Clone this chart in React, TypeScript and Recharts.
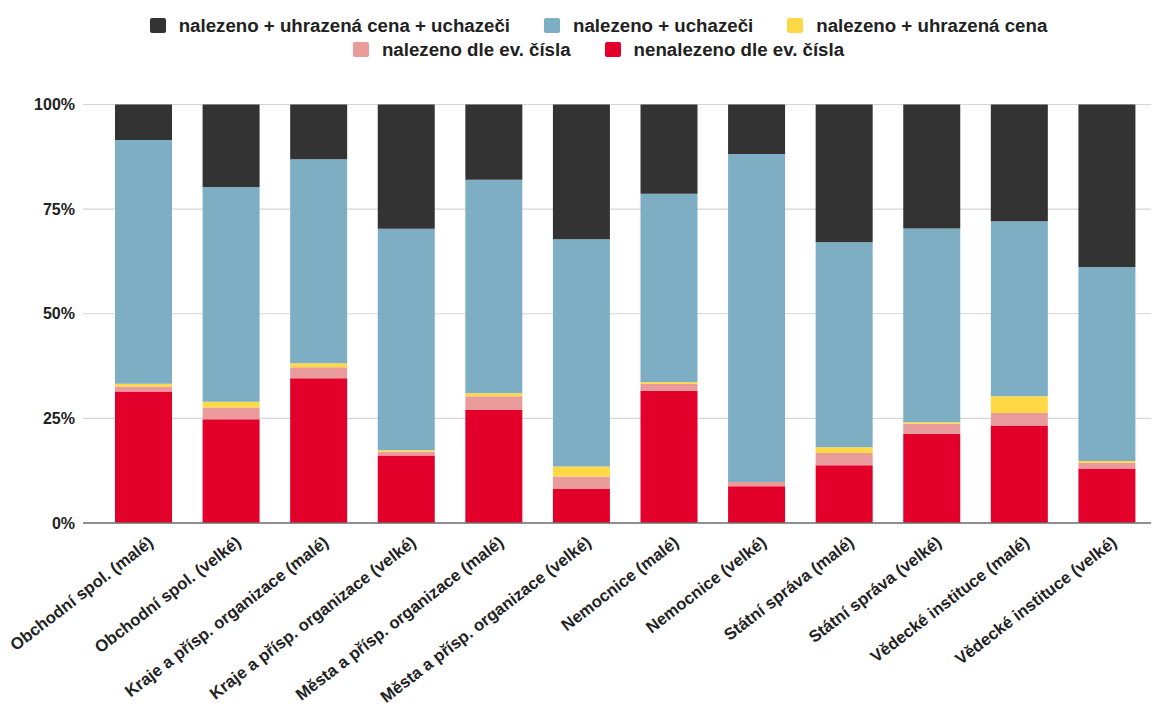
import React from 'react';
import { BarChart, Bar, XAxis, YAxis, CartesianGrid, Legend } from 'recharts';

const categories = [
  'Obchodní spol. (malé)',
  'Obchodní spol. (velké)',
  'Kraje a přísp. organizace (malé)',
  'Kraje a přísp. organizace (velké)',
  'Města a přísp. organizace (malé)',
  'Města a přísp. organizace (velké)',
  'Nemocnice (malé)',
  'Nemocnice (velké)',
  'Státní správa (malé)',
  'Státní správa (velké)',
  'Vědecké instituce (malé)',
  'Vědecké instituce (velké)',
];

// percent shares, bottom of the stack first
const nenalezeno = [31.4, 24.8, 34.6, 16.1, 27.0, 8.1, 31.6, 8.8, 13.8, 21.3, 23.3, 13.0];
const nalezenoDle = [1.2, 2.8, 2.6, 0.9, 3.3, 3.0, 1.7, 1.0, 2.9, 2.4, 3.0, 1.4];
const nalezenoCena = [0.7, 1.4, 1.0, 0.4, 0.7, 2.4, 0.4, 0, 1.4, 0.4, 4.0, 0.4];
const nalezenoUchazeci = [58.2, 51.3, 48.7, 52.9, 51.0, 54.3, 45.0, 78.4, 49.0, 46.3, 41.8, 46.4];
const nalezenoVse = [8.5, 19.7, 13.1, 29.7, 18.0, 32.2, 21.3, 11.8, 32.9, 29.6, 27.9, 38.8];

const yTicks = [0, 25, 50, 75, 100];

const series = [
  { key: 'nenalezeno', label: 'nenalezeno dle ev. čísla', color: '#e2002b' },
  { key: 'nalezenoDle', label: 'nalezeno dle ev. čísla', color: '#e99a9a' },
  { key: 'nalezenoCena', label: 'nalezeno + uhrazená cena', color: '#ffd945' },
  { key: 'nalezenoUchazeci', label: 'nalezeno + uchazeči', color: '#7eaec4' },
  { key: 'nalezenoVse', label: 'nalezeno + uhrazená cena + uchazeči', color: '#333333' },
];

const data = categories.map((name, i) => ({
  name,
  nenalezeno: nenalezeno[i],
  nalezenoDle: nalezenoDle[i],
  nalezenoCena: nalezenoCena[i],
  nalezenoUchazeci: nalezenoUchazeci[i],
  nalezenoVse: nalezenoVse[i],
}));

const FONT = '"Liberation Sans", Arial, sans-serif';

const legendRows = [
  ['nalezenoVse', 'nalezenoUchazeci', 'nalezenoCena'],
  ['nalezenoDle', 'nenalezeno'],
];

function LegendBox() {
  return (
    <div style={{ height: 94.5, paddingTop: 3.5, paddingLeft: 46, boxSizing: 'border-box', fontFamily: FONT }}>
      {legendRows.map((row, r) => (
        <div key={r} style={{ height: 24, display: 'flex', justifyContent: 'center', alignItems: 'center' }}>
          {row.map((k) => {
            const s = series.find((x) => x.key === k)!;
            return (
              <div key={k} style={{ display: 'flex', alignItems: 'center', margin: '0 17px' }}>
                <span style={{ width: 16, height: 15, borderRadius: 2, background: s.color, marginRight: 13 }} />
                <span style={{ fontSize: 18.7, fontWeight: 700, color: '#222' }}>{s.label}</span>
              </div>
            );
          })}
        </div>
      ))}
    </div>
  );
}

function XTick(props: any) {
  const { x, payload } = props;
  return (
    <text
      transform={`translate(${x + 10.7},544.5) rotate(-37.6)`}
      textAnchor="end"
      fontFamily={FONT}
      fontSize={16.7}
      fontWeight={700}
      fill="#222"
    >
      {payload.value}
    </text>
  );
}

export default function App() {
  return (
    <div style={{ position: 'absolute', left: 0, top: 0, background: '#fff' }}>
      <BarChart width={1154} height={706} data={data} margin={{ top: 10, right: 3, left: 0, bottom: 0 }}>
        <Legend verticalAlign="top" align="center" content={() => <LegendBox />} />
        <CartesianGrid vertical={false} stroke="#d6d6d6" strokeWidth={1.2} />
        <YAxis
          domain={[0, 100]}
          ticks={yTicks}
          tickFormatter={(v) => `${v}%`}
          axisLine={false}
          tickLine={false}
          width={83}
          tick={{ fontFamily: FONT, fontSize: 16, fontWeight: 700, fill: '#222' }}
        />
        <XAxis
          dataKey="name"
          interval={0}
          tickLine={false}
          axisLine={{ stroke: '#707070', strokeWidth: 1.6 }}
          height={183}
          padding={{ left: 17, right: 0 }}
          tick={<XTick />}
        />
        {series.map((s) => (
          <Bar key={s.key} dataKey={s.key} stackId="a" fill={s.color} barSize={57} isAnimationActive={false} />
        ))}
      </BarChart>
    </div>
  );
}
